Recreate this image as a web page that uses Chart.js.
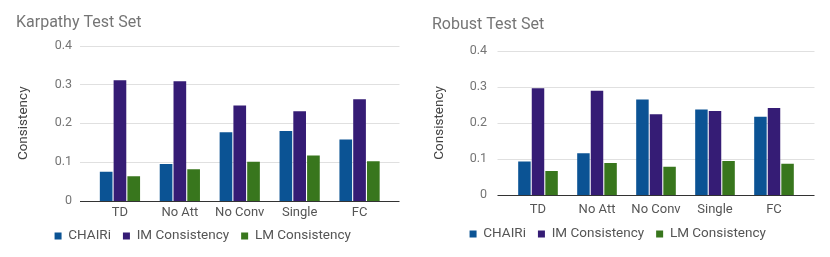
<!DOCTYPE html>
<html>
<head>
<meta charset="utf-8">
<script src="https://cdn.jsdelivr.net/npm/chart.js@4"></script>
<style>
  body { margin: 0; background: #fff; }
  .wrap { display: flex; width: 830px; height: 257px; }
  .box { position: relative; width: 415px; height: 257px; }
</style>
</head>
<body>
<div class="wrap">
  <div class="box"><canvas id="chartKarpathy"></canvas></div>
  <div class="box"><canvas id="chartRobust"></canvas></div>
</div>
<script>
var labels = ["TD", "No Att", "No Conv", "Single", "FC"];
var seriesNames = ["CHAIRi", "IM Consistency", "LM Consistency"];
var colors = ["#0b5394", "#351c75", "#38761d"];
var yTicks = [0, 0.1, 0.2, 0.3, 0.4];

// Karpathy test set
var karpathyChair = [0.075, 0.095, 0.177, 0.18, 0.158];
var karpathyIm = [0.311, 0.308, 0.246, 0.231, 0.262];
var karpathyLm = [0.064, 0.082, 0.101, 0.117, 0.102];

// Robust test set
var robustChair = [0.093, 0.116, 0.265, 0.237, 0.217];
var robustIm = [0.296, 0.289, 0.224, 0.233, 0.241];
var robustLm = [0.067, 0.089, 0.079, 0.095, 0.087];

Chart.defaults.font.family = "Roboto, Arial, sans-serif";

// gridlines a bit wider than the category band, like the sheets chart
var gridPlugin = {
  id: "wideGrid",
  beforeDatasetsDraw: function (chart, args, opts) {
    var ctx = chart.ctx;
    var area = chart.chartArea;
    var y = chart.scales.y;
    ctx.save();
    yTicks.forEach(function (v) {
      var py = Math.round(y.getPixelForValue(v)) + 0.5;
      ctx.strokeStyle = v === 0 ? "#333333" : "#e0e0e0";
      ctx.lineWidth = 1;
      ctx.beginPath();
      ctx.moveTo(area.left - opts.extend, py);
      ctx.lineTo(area.right + opts.extend, py);
      ctx.stroke();
    });
    ctx.restore();
  },
};

function renderChart(canvasId, title, chair, im, lm, geo) {
  var ctx = document.getElementById(canvasId).getContext("2d");
  var values = [chair, im, lm];
  return new Chart(ctx, {
    type: "bar",
    data: {
      labels: labels,
      datasets: seriesNames.map(function (name, i) {
        return {
          label: name,
          data: values[i],
          backgroundColor: colors[i],
          borderWidth: 0,
          categoryPercentage: 0.69,
          barPercentage: 0.92,
        };
      }),
    },
    plugins: [gridPlugin],
    options: {
      responsive: true,
      maintainAspectRatio: false,
      animation: false,
      layout: { padding: { left: geo.left, right: geo.right, top: 0, bottom: geo.bottom } },
      plugins: {
        wideGrid: { extend: geo.extend },
        title: {
          display: true,
          text: title,
          align: "start",
          color: "#757575",
          font: { size: 16, weight: "normal" },
          padding: { top: geo.titleTop, bottom: geo.titleBottom },
        },
        legend: {
          position: "bottom",
          align: "center",
          labels: {
            color: "#555555",
            font: { size: 13.5 },
            boxWidth: 7,
            boxHeight: 7,
            padding: 12,
          },
        },
        tooltip: { enabled: false },
      },
      scales: {
        x: {
          grid: { display: false, drawTicks: false },
          border: { display: false },
          ticks: { color: "#555555", font: { size: 13 }, padding: geo.xPad },
          afterFit: function (s) {
            s.height = geo.xHeight;
            // labels hang into the legend band, so don't clip them to the axis box
            s._computeLabelArea = function () { return undefined; };
          },
        },
        y: {
          min: 0,
          max: 0.4,
          ticks: { stepSize: 0.1, color: "#757575", font: { size: 12.5 }, padding: geo.yPad },
          grid: { display: false, drawTicks: false },
          border: { display: false },
          title: { display: true, text: "Consistency", color: "#444444", font: { size: 13.5 }, padding: 0 },
          afterFit: function (s) { s.width = geo.yWidth; },
        },
      },
    },
  });
}

renderChart("chartKarpathy", "Karpathy Test Set", karpathyChair, karpathyIm, karpathyLm,
  { left: 16, right: 25.5, bottom: 4.25, titleTop: 13.2, titleBottom: 13.2,
    xHeight: 16.25, xPad: 4, yWidth: 74, yPad: 18, extend: 10 });
renderChart("chartRobust", "Robust Test Set", robustChair, robustIm, robustLm,
  { left: 17, right: 26.5, bottom: 6.25, titleTop: 15.2, titleBottom: 16.2,
    xHeight: 20, xPad: 7, yWidth: 76.5, yPad: 21.5, extend: 11 });
</script>
</body>
</html>
